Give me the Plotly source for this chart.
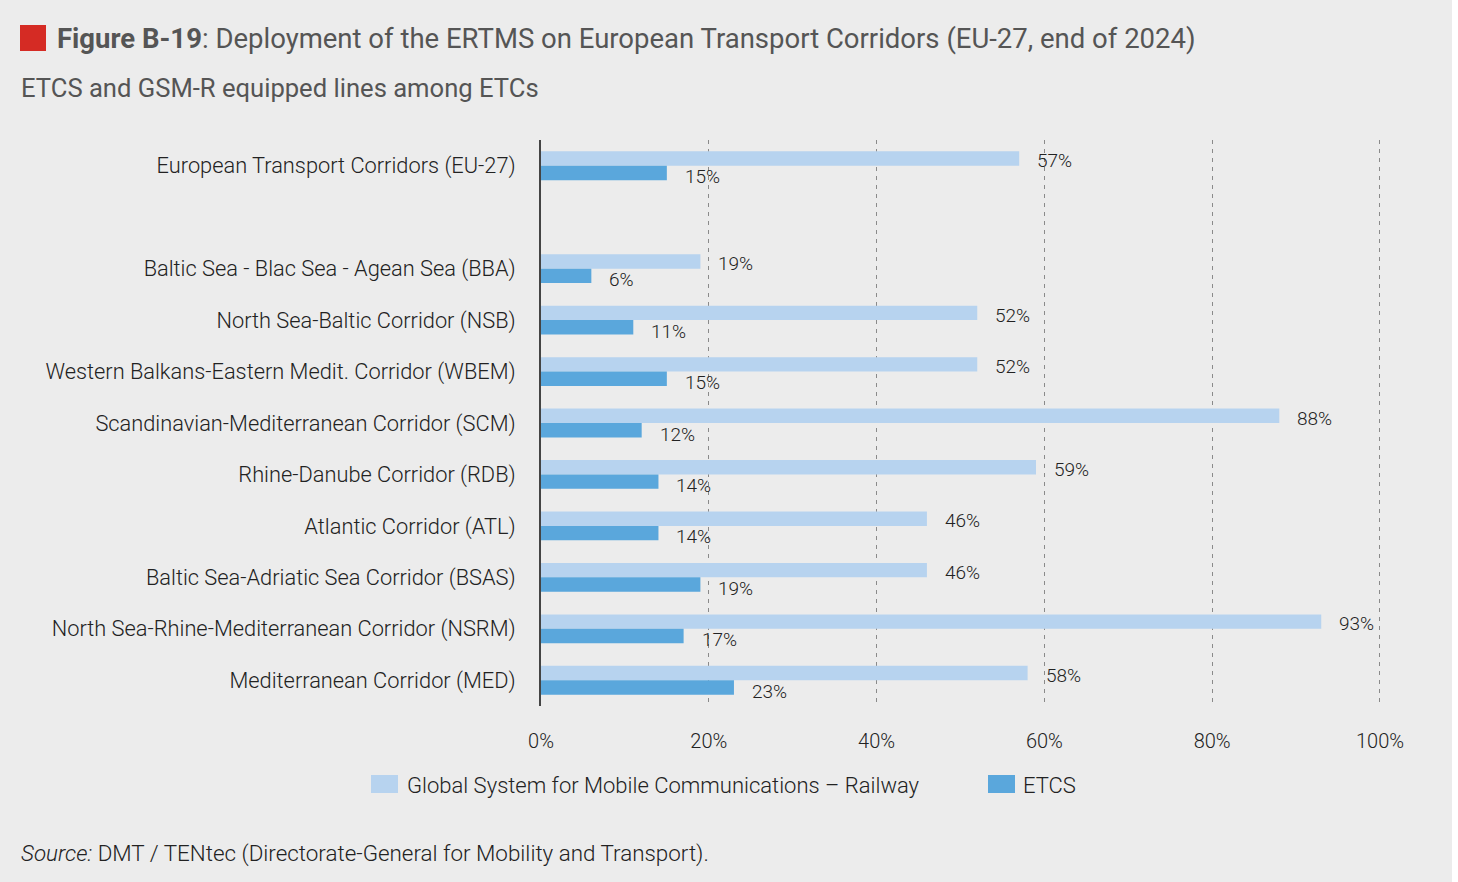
import plotly.graph_objects as go

# ---------------- data ----------------
categories = [
    "European Transport Corridors (EU-27)",
    "",
    "Baltic Sea - Blac Sea - Agean Sea (BBA)",
    "North Sea-Baltic Corridor (NSB)",
    "Western Balkans-Eastern Medit. Corridor (WBEM)",
    "Scandinavian-Mediterranean Corridor (SCM)",
    "Rhine-Danube Corridor (RDB)",
    "Atlantic Corridor (ATL)",
    "Baltic Sea-Adriatic Sea Corridor (BSAS)",
    "North Sea-Rhine-Mediterranean Corridor (NSRM)",
    "Mediterranean Corridor (MED)",
]
gsmr = [57, None, 19, 52, 52, 88, 59, 46, 46, 93, 58]
etcs = [15, None, 6, 11, 15, 12, 14, 14, 19, 17, 23]
x_ticks = [0, 20, 40, 60, 80, 100]
x_ticktext = ["0%", "20%", "40%", "60%", "80%", "100%"]
series_names = ["Global System for Mobile Communications \u2013 Railway", "ETCS"]

# ---------------- style ----------------
W, H = 1458, 882
XMAX = 100.6
L, T, B = 541, 140, 706
R = L + (1380 - L) * XMAX / 100
BG = "#ececec"
C_GSM = "#b7d3ef"
C_ETCS = "#5aa7dc"
FONT = "Roboto"
ypos = list(range(len(categories)))
colors = [C_GSM, C_ETCS]


def px_x(px):
    return (px - L) / (R - L)


def px_y(py):
    return (B - py) / (B - T)


fig = go.Figure()
for name, vals, col in zip(series_names, [gsmr, etcs], colors):
    fig.add_trace(go.Bar(
        y=ypos, x=vals, orientation="h", name=name,
        marker=dict(color=col, line=dict(width=0)), showlegend=False,
    ))

lab_font = dict(family=FONT, size=19, color="#222", weight=300)
annotations = []
for yi, (g, e) in enumerate(zip(gsmr, etcs)):
    if g is not None:
        annotations.append(dict(x=g, y=yi, xref="x", yref="y", text=f"{g}%",
                                showarrow=False, xanchor="left", yanchor="middle",
                                xshift=16, yshift=5, font=lab_font))
    if e is not None:
        annotations.append(dict(x=e, y=yi, xref="x", yref="y", text=f"{e}%",
                                showarrow=False, xanchor="left", yanchor="middle",
                                xshift=16, yshift=-11, font=lab_font))

# title / subtitle / source
annotations.append(dict(
    xref="paper", yref="paper", x=px_x(55), y=px_y(38), xanchor="left", yanchor="middle",
    text="<b>Figure B-19</b>: Deployment of the ERTMS on European Transport Corridors (EU-27, end of 2024)",
    showarrow=False, font=dict(family=FONT, size=27.5, color="#555555")))
annotations.append(dict(
    xref="paper", yref="paper", x=px_x(19), y=px_y(88), xanchor="left", yanchor="middle",
    text="ETCS and GSM-R equipped lines among ETCs",
    showarrow=False, font=dict(family=FONT, size=25.6, color="#555555")))
annotations.append(dict(
    xref="paper", yref="paper", x=px_x(19), y=px_y(853), xanchor="left", yanchor="middle",
    text="<i>Source:</i> DMT / TENtec (Directorate-General for Mobility and Transport).",
    showarrow=False, font=dict(family=FONT, size=22.4, color="#222222", weight=300)))

shapes = [
    # red square before the title
    dict(type="rect", xref="paper", yref="paper",
         x0=px_x(20), x1=px_x(46), y0=px_y(51), y1=px_y(25),
         fillcolor="#d52b24", line=dict(width=0)),
    # white strip at right edge
    dict(type="rect", xref="paper", yref="paper",
         x0=px_x(1452), x1=px_x(1470), y0=px_y(900), y1=px_y(-20),
         fillcolor="white", line=dict(width=0)),
]

# legend (swatches + labels)
leg_swatch_x = [371, 988]
leg_text_x = [405, 1021]
for name, col, sx, tx in zip(series_names, colors, leg_swatch_x, leg_text_x):
    shapes.append(dict(type="rect", xref="paper", yref="paper",
                       x0=px_x(sx), x1=px_x(sx + 27), y0=px_y(793), y1=px_y(775),
                       fillcolor=col, line=dict(width=0)))
    annotations.append(dict(xref="paper", yref="paper", x=px_x(tx), y=px_y(785),
                            xanchor="left", yanchor="middle", text=name, showarrow=False,
                            font=dict(family=FONT, size=22, color="#222", weight=300)))

fig.update_layout(
    width=W, height=H,
    margin=dict(l=L, r=W - R, t=T, b=H - B),
    paper_bgcolor=BG, plot_bgcolor=BG,
    barmode="group", bargap=0.44, bargroupgap=0,
    font=dict(family=FONT, color="#222222"),
    annotations=annotations, shapes=shapes,
    showlegend=False,
    xaxis=dict(range=[0, XMAX], tickvals=x_ticks, ticktext=x_ticktext,
               showgrid=True, gridcolor="#8a8a8a", gridwidth=1, griddash="4px,5px",
               zeroline=False, showline=False, ticks="", ticklabelstandoff=21,
               tickfont=dict(family=FONT, size=20, color="#222", weight=300),
               fixedrange=True),
    yaxis=dict(range=[len(categories) - 0.5, -0.5], tickvals=ypos, ticktext=categories,
               showgrid=False, zeroline=False, showline=True, linecolor="#444444",
               linewidth=2, ticks="", ticklabelstandoff=19,
               tickfont=dict(family=FONT, size=21.8, color="#222", weight=300),
               fixedrange=True),
)

fig.write_html("out.html")
